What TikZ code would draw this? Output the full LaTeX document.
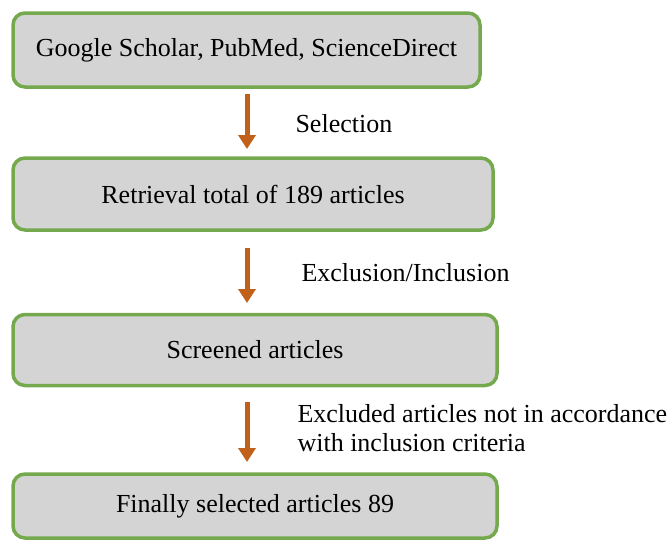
\documentclass[tikz,border=0pt]{standalone}
\usepackage{fontspec}
\setmainfont{Liberation Serif}
\usetikzlibrary{arrows.meta}
\definecolor{boxfill}{HTML}{D4D4D4}
\definecolor{boxline}{HTML}{74A94E}
\definecolor{arr}{HTML}{C0601A}
\begin{document}
\begin{tikzpicture}[x=1pt,y=-1pt,
  flowbox/.style={draw=boxline, line width=3.5pt, fill=boxfill, rounded corners=12pt, font=\fontsize{26}{30}\selectfont},
  flowarrow/.style={draw=arr, line width=5pt, -{Triangle[length=14pt,width=17pt]}},
  lbl/.style={font=\fontsize{26}{29.5}\selectfont, anchor=west, align=left}]
\useasboundingbox (0,0) rectangle (672,542);
\node[flowbox, minimum width=467pt, minimum height=74pt] (b1) at (246.5,50) {Google Scholar, PubMed, ScienceDirect};
\node[flowbox, minimum width=480pt, minimum height=72pt] (b2) at (253,194) {Retrieval total of 189 articles};
\node[flowbox, minimum width=484pt, minimum height=71pt] (b3) at (255,350) {Screened articles};
\node[flowbox, minimum width=484pt, minimum height=64pt] (b4) at (255,506) {Finally selected articles 89};
\coordinate (a1s) at (247,94);
\coordinate (a1e) at (247,149);
\coordinate (a2s) at (247,248);
\coordinate (a2e) at (247,303);
\coordinate (a3s) at (247,402);
\coordinate (a3e) at (247,462);
\draw[flowarrow] (a1s) -- (a1e);
\draw[flowarrow] (a2s) -- (a2e);
\draw[flowarrow] (a3s) -- (a3e);
\node[lbl] (l1) at (292,124) {Selection};
\node[lbl] (l2) at (298,273) {Exclusion/Inclusion};
\node[lbl] (l3) at (294,428) {Excluded articles not in accordance\\with inclusion criteria};
\end{tikzpicture}
\end{document}
